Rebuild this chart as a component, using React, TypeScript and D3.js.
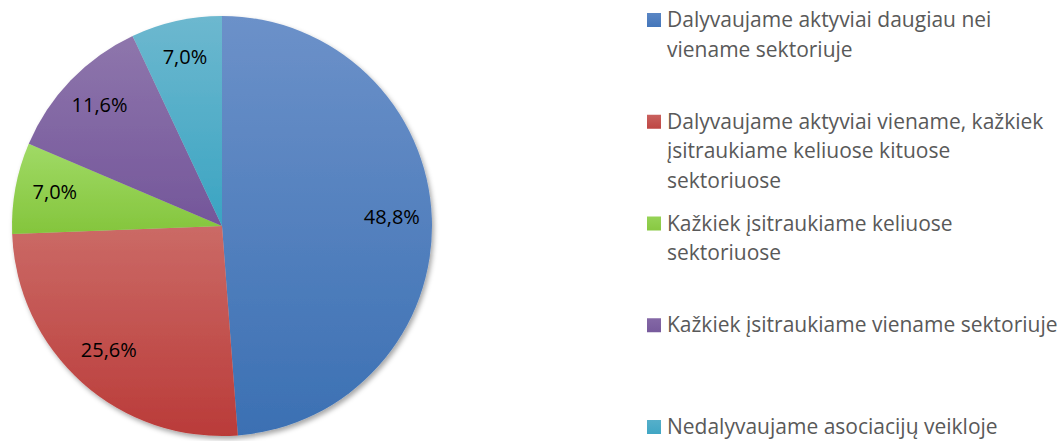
import React from 'react';
import * as d3 from 'd3';

const categories = [
  'Dalyvaujame aktyviai daugiau nei viename sektoriuje',
  'Dalyvaujame aktyviai viename, kažkiek įsitraukiame keliuose kituose sektoriuose',
  'Kažkiek įsitraukiame keliuose sektoriuose',
  'Kažkiek įsitraukiame viename sektoriuje',
  'Nedalyvaujame asociacijų veikloje',
];
const values = [48.8, 25.6, 7.0, 11.6, 7.0];
const legendLines = [
  ['Dalyvaujame aktyviai daugiau nei', 'viename sektoriuje'],
  ['Dalyvaujame aktyviai viename, kažkiek', 'įsitraukiame keliuose kituose', 'sektoriuose'],
  ['Kažkiek įsitraukiame keliuose', 'sektoriuose'],
  ['Kažkiek įsitraukiame viename sektoriuje'],
  ['Nedalyvaujame asociacijų veikloje'],
];
const colorsTop = ['#6C91C9', '#CB6A66', '#A0DA66', '#8E76AC', '#6DB8CF'];
const colorsBottom = ['#3B70B3', '#BA3B39', '#84C53C', '#74569A', '#3AA4C2'];
const legendTop = ['#5A86C4', '#C9615E', '#96D356', '#8468A6', '#55AFCA'];
const legendBottom = ['#4476BA', '#BE4643', '#88C842', '#775A9C', '#40A6C4'];

export default function App() {
  const W = 1057, H = 441;
  const cx = 222, cy = 226, r = 210;
  const pie = d3.pie<number>().sort(null).value((d) => d)(values);
  const arc = d3.arc<d3.PieArcDatum<number>>().innerRadius(0).outerRadius(r);
  const labelArc = d3.arc<d3.PieArcDatum<number>>().innerRadius(170).outerRadius(170);
  const fmt = (v: number) => v.toFixed(1).replace('.', ',') + '%';
  const legendY = d3.scaleLinear().domain([0, categories.length - 1]).range([27, 434]);
  const lineH = 29.5;
  const font = '"Open Sans", "DejaVu Sans", sans-serif';

  return (
    <svg width={W} height={H} style={{ position: 'absolute', left: 0, top: 0, background: '#fff' }}>
      <defs>
        {values.map((_, i) => (
          <linearGradient key={i} id={`g${i}`} x1="0" y1="0" x2="0" y2="1">
            <stop offset="0" stopColor={colorsTop[i]} />
            <stop offset="1" stopColor={colorsBottom[i]} />
          </linearGradient>
        ))}
        {values.map((_, i) => (
          <linearGradient key={'l' + i} id={`lg${i}`} x1="0" y1="0" x2="0" y2="1">
            <stop offset="0" stopColor={legendTop[i]} />
            <stop offset="1" stopColor={legendBottom[i]} />
          </linearGradient>
        ))}
        <filter id="shadow" x="-10%" y="-10%" width="120%" height="120%">
          <feDropShadow dx="2" dy="3" stdDeviation="2.5" floodColor="#000" floodOpacity="0.35" />
        </filter>
      </defs>
      <g transform={`translate(${cx},${cy})`}>
        <g filter="url(#shadow)">
          {pie.map((d, i) => (
            <path key={i} d={arc(d) || ''} fill={`url(#g${i})`} />
          ))}
        </g>
        {pie.map((d, i) => {
          const [x, y] = labelArc.centroid(d);
          return (
            <text key={i} x={x} y={y} dy="0.2em" textAnchor="middle" fontFamily={font} fontSize={20} fill="#000">
              {fmt(d.data)}
            </text>
          );
        })}
      </g>
      <g>
        {categories.map((c, i) => {
          const by = legendY(i);
          return (
            <g key={c}>
              <rect x={647} y={by - 14} width={14} height={14} fill={`url(#lg${i})`} />
              <text fontFamily={font} fontSize={21} fill="#595959">
                {legendLines[i].map((ln, j) => (
                  <tspan key={j} x={667} y={by + j * lineH}>{ln}</tspan>
                ))}
              </text>
            </g>
          );
        })}
      </g>
    </svg>
  );
}
